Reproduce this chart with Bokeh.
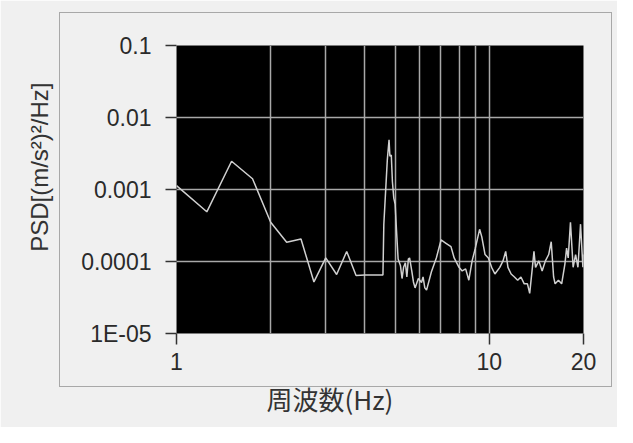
from bokeh.plotting import figure
from bokeh.models import FixedTicker, Title, InlineStyleSheet
from bokeh.embed import file_html
from bokeh.resources import INLINE

# ---- data ----
freq_hz = [1.0, 1.25, 1.5, 1.75, 2.0, 2.25, 2.5, 2.75, 3.0, 3.25, 3.5, 3.75,
           4.0, 4.25, 4.5, 4.57, 4.6, 4.72, 4.78, 4.81, 4.86, 4.90, 4.95, 5.0,
           5.05, 5.11, 5.20, 5.26, 5.32, 5.39, 5.45, 5.51, 5.56, 5.65, 5.72,
           5.79, 5.93, 6.07, 6.14, 6.22, 6.30, 6.53, 6.77, 7.01, 7.27, 7.54,
           7.72, 8.00, 8.19, 8.40, 8.60, 8.81, 9.02, 9.31, 9.46, 9.69, 9.93,
           10.17, 10.42, 10.80, 11.06, 11.28, 11.47, 11.74, 12.03, 12.32,
           12.62, 12.93, 13.24, 13.46, 13.73, 13.89, 14.05, 14.40, 14.75,
           15.11, 15.48, 15.77, 16.05, 16.23, 16.63, 17.03, 17.44, 17.66,
           17.87, 18.17, 18.53, 18.87, 19.20, 19.57, 19.91, 20.0]
psd = [1.13e-3, 4.9e-4, 2.47e-3, 1.41e-3, 3.5e-4, 1.85e-4, 2.05e-4, 5.2e-5,
       1.12e-4, 6.6e-5, 1.38e-4, 6.4e-5,
       6.5e-5, 6.5e-5, 6.5e-5, 6.5e-5, 3.3e-4, 2.6e-3, 4.9e-3, 2.9e-3, 3.0e-3,
       1.28e-3, 7.6e-4, 6.2e-4,
       2.7e-4, 1.08e-4, 8.7e-5, 5.8e-5, 8.3e-5, 9.6e-5, 6.1e-5, 1.08e-4,
       1.12e-4, 7.4e-5, 5.2e-5,
       4.3e-5, 5.8e-5, 5.1e-5, 6.1e-5, 4.3e-5, 4.0e-5, 7.2e-5, 1.12e-4,
       1.99e-4, 1.79e-4, 1.61e-4,
       1.12e-4, 8.3e-5, 7.4e-5, 7.9e-5, 5.5e-5, 1.02e-4, 1.53e-4, 2.8e-4,
       2.2e-4, 1.25e-4, 1.12e-4,
       8.3e-5, 6.7e-5, 8.3e-5, 1.02e-4, 1.38e-4, 8.3e-5, 6.7e-5, 6.1e-5,
       5.5e-5,
       6.1e-5, 4.9e-5, 4.9e-5, 3.6e-5, 8.3e-5, 1.38e-4, 8.3e-5, 1.02e-4,
       7.4e-5,
       1.02e-4, 1.25e-4, 1.88e-4, 6.1e-5, 4.9e-5, 5.5e-5, 4.9e-5, 9.2e-5,
       1.53e-4,
       1.12e-4, 3.5e-4, 8.3e-5, 1.25e-4, 8.3e-5, 3.3e-4, 8.3e-5, 1.25e-4]

y_ticks = [1e-5, 1e-4, 1e-3, 1e-2, 1e-1]
y_tick_labels = ["1E-05", "0.0001", "0.001", "0.01", "0.1"]
x_ticks = [1, 10, 20]
x_tick_labels = ["1", "10", "20"]
x_grid_lines = [2, 3, 4, 5, 6, 7, 8, 9, 10]
y_grid_lines = [1e-4, 1e-3, 1e-2]
x_title = "周波数(Hz)"
y_title = "PSD[(m/s²)²/Hz]"

W, H = 617, 427
box_css = """
:host::after {
  content: "";
  position: absolute;
  left: 59px; top: 12px; width: 553px; height: 375px;
  border: 1.5px solid #a8a8a8;
  box-sizing: border-box;
  pointer-events: none;
}
"""
p = figure(width=W, height=H, x_axis_type="log", y_axis_type="log",
           x_range=(1, 20), y_range=(1e-5, 0.1),
           output_backend="svg", toolbar_location=None,
           min_border_left=176, min_border_right=34,
           min_border_top=45, min_border_bottom=94,
           stylesheets=[InlineStyleSheet(css=box_css)])
p.background_fill_color = "black"
p.border_fill_color = "#f0f0f0"
p.outline_line_color = None

tick_font = "Liberation Sans"
# y axis
p.yaxis.ticker = FixedTicker(ticks=y_ticks)
p.yaxis.major_label_overrides = dict(zip(y_ticks, y_tick_labels))
p.yaxis.minor_tick_line_color = None
p.yaxis.major_tick_out = 11
p.yaxis.major_tick_in = 0
p.yaxis.major_label_standoff = 14
p.yaxis.axis_line_color = None
# x axis
p.xaxis.ticker = FixedTicker(ticks=x_ticks)
p.xaxis.major_label_overrides = dict(zip(x_ticks, x_tick_labels))
p.xaxis.minor_tick_line_color = None
p.xaxis.major_tick_out = 11
p.xaxis.major_tick_in = 0
p.xaxis.major_label_standoff = 8
p.xaxis.axis_line_color = None
for ax in (p.xaxis, p.yaxis):
    ax.major_tick_line_color = "#333333"
    ax.major_tick_line_width = 1.5
    ax.major_label_text_font = tick_font
    ax.major_label_text_font_size = "23px"
    ax.major_label_text_color = "#2a2a2a"

# grids
p.xgrid.ticker = FixedTicker(ticks=x_grid_lines)
p.ygrid.ticker = FixedTicker(ticks=y_grid_lines)
for g in (p.xgrid, p.ygrid):
    g.grid_line_color = "#a8a8a8"
    g.grid_line_width = 1.5

p.line(freq_hz, psd, line_color="#d0d0d0", line_width=1.5)

# axis titles
p.add_layout(Title(text=y_title, align="right", vertical_align="top",
                   offset=37, standoff=48,
                   text_font="Liberation Sans", text_font_size="24px",
                   text_font_style="normal", text_color="#333333"), "left")
p.add_layout(Title(text=x_title, align="left", offset=90, standoff=11,
                   text_font="Noto Sans CJK JP", text_font_size="26px",
                   text_font_style="normal", text_color="#333333"), "below")

open("out.html", "w").write(file_html(p, INLINE))
